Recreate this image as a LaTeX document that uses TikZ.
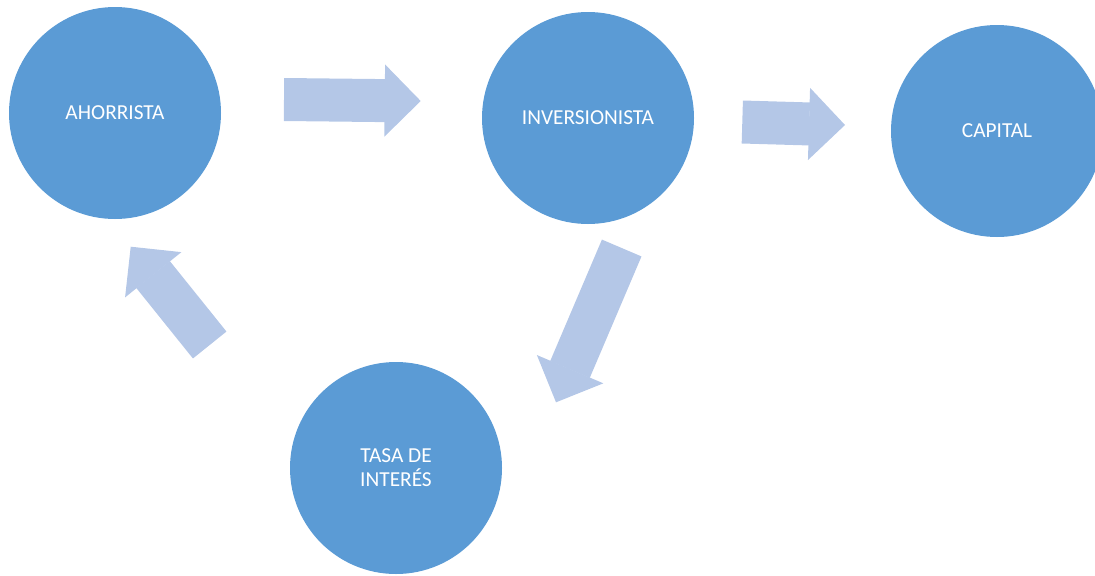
\documentclass[tikz,border=0pt]{standalone}
\usepackage{fontspec}
\setmainfont{Carlito}
\usetikzlibrary{arrows.meta, positioning}
\definecolor{CircBlue}{HTML}{5B9BD5}
\definecolor{ArrowBlue}{HTML}{B4C7E7}

\begin{document}
\begin{tikzpicture}[x=0.75pt, y=-0.75pt,
  circulo/.style={circle, fill=CircBlue, minimum size=159pt, inner sep=0pt,
    text=white, align=center, font=\fontsize{16}{18}\selectfont},
  flecha/.style={ArrowBlue, line width=32.25pt,
    -{Triangle[width=54pt, length=27pt, line width=1pt]}}]
  \path[use as bounding box, clip] (0,0) rectangle (1095,575);

  % Circles
  \node[circulo] (ahorr) at (115,113) {AHORRISTA};
  \node[circulo] (inver) at (588,118) {INVERSIONISTA};
  \node[circulo] (capit) at (997,131) {CAPITAL};
  \node[circulo] (tasa)  at (396,468) {TASA DE\\INTERÉS};

  % Arrow ends
  \coordinate (f1s) at (284,99.5);   \coordinate (f1e) at (420.7,101);
  \coordinate (f2s) at (742.3,122);  \coordinate (f2e) at (845,125);
  \coordinate (f3s) at (621.7,248);  \coordinate (f3e) at (556,402.3);
  \coordinate (f4s) at (209.7,345);  \coordinate (f4e) at (130.7,246.7);

  % Block arrows
  \draw[flecha] (f1s) -- (f1e);
  \draw[flecha] (f2s) -- (f2e);
  \draw[flecha] (f3s) -- (f3e);
  \draw[flecha] (f4s) -- (f4e);
\end{tikzpicture}
\end{document}
